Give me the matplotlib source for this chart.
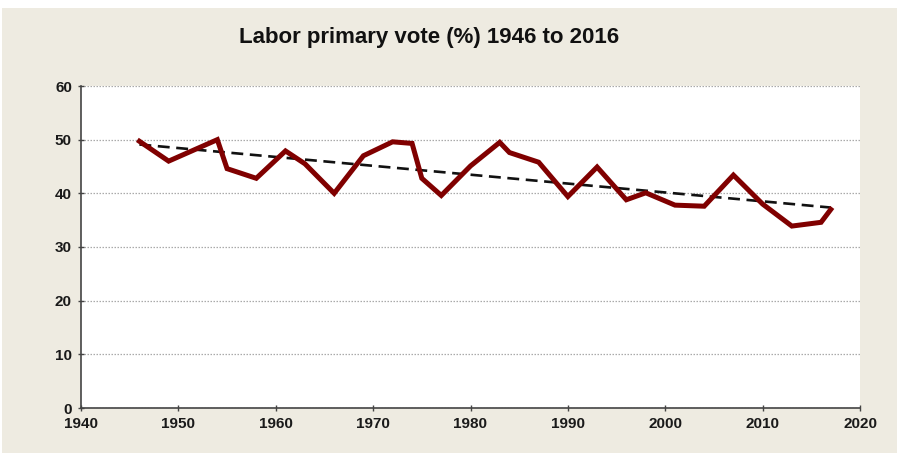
import matplotlib
matplotlib.use("Agg")
import matplotlib.pyplot as plt
from matplotlib.patches import Rectangle
import numpy as np

years = [1946, 1949, 1951, 1954, 1955, 1958, 1961, 1963, 1966, 1969, 1972, 1974,
         1975, 1977, 1980, 1983, 1984, 1987, 1990, 1993, 1996, 1998, 2001, 2004,
         2007, 2010, 2013, 2016, 2017]
vote = [49.7, 46.0, 47.6, 50.0, 44.6, 42.8, 47.9, 45.5, 40.0, 47.0, 49.6, 49.3,
        42.8, 39.6, 45.1, 49.5, 47.6, 45.8, 39.4, 44.9, 38.8, 40.1, 37.8, 37.6,
        43.4, 38.0, 33.9, 34.6, 37.0]
xticks = [1940, 1950, 1960, 1970, 1980, 1990, 2000, 2010, 2020]
yticks = [0, 10, 20, 30, 40, 50, 60]
title = "Labor primary vote (%) 1946 to 2016"

plt.rcParams['font.family'] = ['Liberation Sans', 'DejaVu Sans']

fig = plt.figure(figsize=(9.04, 4.57), dpi=100, facecolor='white')
bg = Rectangle((2/904, 4/457), 895/904, 445/457, transform=fig.transFigure,
               facecolor='#EEEBE1', edgecolor='none', zorder=-10)
fig.add_artist(bg)

ax = fig.add_axes([81/904, 49/457, 779/904, 322/457])
ax.set_zorder(1)
ax.set_facecolor('white')

x = np.array(years, dtype=float)
y = np.array(vote)
coef = np.polyfit(x, y, 1)
tx = np.array([x.min(), x.max()])
ax.plot(tx, np.polyval(coef, tx), color='#111111', lw=1.9, dashes=(4.5, 2.5), zorder=3)
ax.plot(x, y, color='#800000', lw=3.6, solid_joinstyle='miter', zorder=4)

ax.set_xlim(1940, 2020)
ax.set_ylim(0, 60)
ax.set_xticks(xticks)
ax.set_yticks(yticks)
ax.yaxis.grid(True, color='#AAAAAA', linestyle=(0, (1.2, 1.2)), lw=0.9)
ax.set_axisbelow(True)
for s in ['top', 'right']:
    ax.spines[s].set_visible(False)
for s in ['left', 'bottom']:
    ax.spines[s].set_color('#444444')
    ax.spines[s].set_linewidth(1.2)
ax.tick_params(axis='both', colors='#444444', labelcolor='#1a1a1a', length=5, width=1,
               direction='inout', labelsize=11)
for lab in ax.get_xticklabels() + ax.get_yticklabels():
    lab.set_fontweight('bold')
ax.tick_params(axis='x', pad=4)
ax.tick_params(axis='y', pad=4)

fig.text(429/904, 1 - 38/457, title, ha='center', va='center', fontsize=16,
         fontweight='bold', color='#111111')

fig.savefig('out.png', dpi=100, facecolor=fig.get_facecolor())
